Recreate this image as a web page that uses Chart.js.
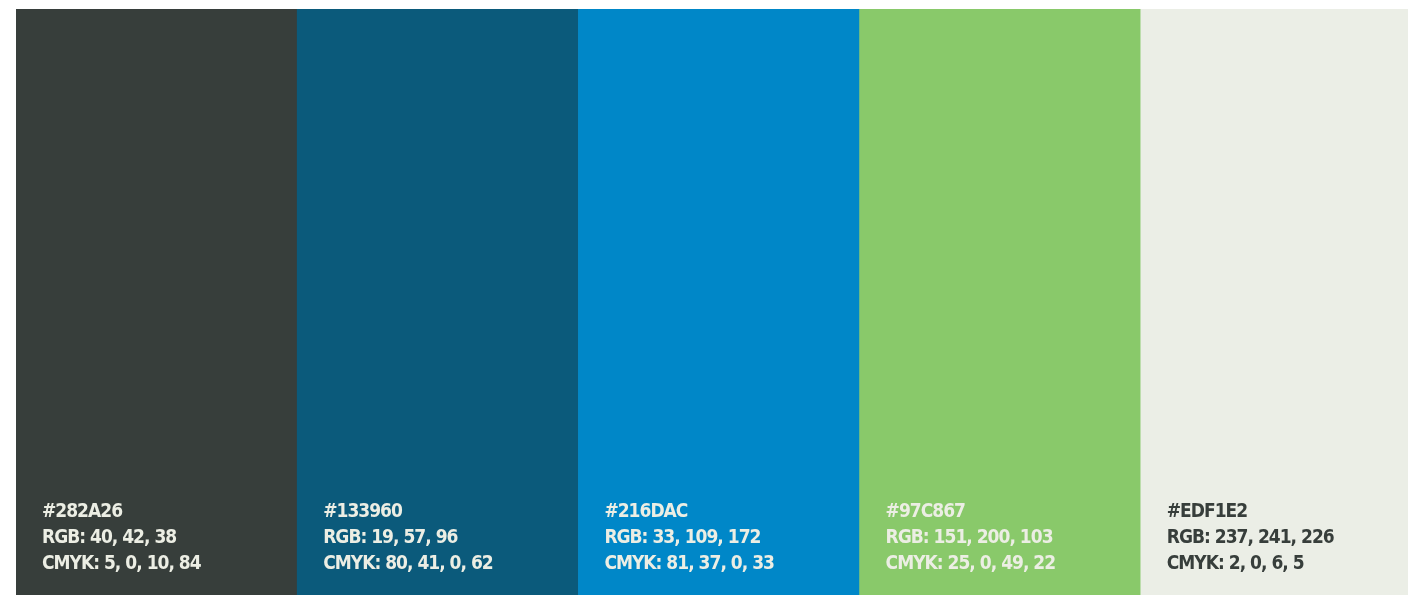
<!DOCTYPE html>
<html>
<head>
<meta charset="utf-8">
<script src="https://cdn.jsdelivr.net/npm/chart.js@4"></script>
<style>
  html, body { margin: 0; padding: 0; background: #ffffff; overflow: hidden; }
  #wrap { width: 1422px; height: 595px; position: relative; }
</style>
</head>
<body>
<div id="wrap"><canvas id="paletteChart"></canvas></div>
<script>
// palette swatches
const hexCodes = ['#282A26', '#133960', '#216DAC', '#97C867', '#EDF1E2'];
const rgbLabels = ['RGB: 40, 42, 38', 'RGB: 19, 57, 96', 'RGB: 33, 109, 172', 'RGB: 151, 200, 103', 'RGB: 237, 241, 226'];
const cmykLabels = ['CMYK: 5, 0, 10, 84', 'CMYK: 80, 41, 0, 62', 'CMYK: 81, 37, 0, 33', 'CMYK: 25, 0, 49, 22', 'CMYK: 2, 0, 6, 5'];
const swatchValues = [1, 1, 1, 1, 1];
// colours as they show on screen
const fillColors = ['#373e3b', '#0b5a7b', '#0087c8', '#89c96a', '#ebeee6'];
const textColors = ['#eceee4', '#eceee4', '#eceee4', '#eceee4', '#373e3b'];

// write the codes at the bottom of every swatch
const swatchText = {
    id: 'swatchText',
    afterDatasetsDraw(chart) {
        const ctx = chart.ctx;
        const meta = chart.getDatasetMeta(0);
        ctx.save();
        ctx.font = '600 19px "DejaVu Sans Condensed", "DejaVu Sans", sans-serif';
        ctx.letterSpacing = '-1px';
        ctx.textBaseline = 'alphabetic';
        meta.data.forEach((bar, i) => {
            const left = bar.x - bar.width / 2 + 26;
            ctx.fillStyle = textColors[i];
            ctx.fillText(hexCodes[i], left, 517);
            ctx.fillText(rgbLabels[i], left, 543);
            ctx.fillText(cmykLabels[i], left, 569);
        });
        ctx.restore();
    }
};

const ctx = document.getElementById('paletteChart').getContext('2d');
new Chart(ctx, {
    type: 'bar',
    data: {
        labels: hexCodes,
        datasets: [{
            data: swatchValues,
            backgroundColor: fillColors,
            borderWidth: 0,
            barPercentage: 1,
            categoryPercentage: 1
        }]
    },
    options: {
        responsive: true,
        maintainAspectRatio: false,
        animation: false,
        layout: { padding: { left: 16, top: 9, right: 0, bottom: 0 } },
        plugins: {
            legend: { display: false },
            tooltip: { enabled: false }
        },
        scales: {
            x: { display: false },
            y: { display: false, min: 0, max: 1 }
        }
    },
    plugins: [swatchText]
});
</script>
</body>
</html>
